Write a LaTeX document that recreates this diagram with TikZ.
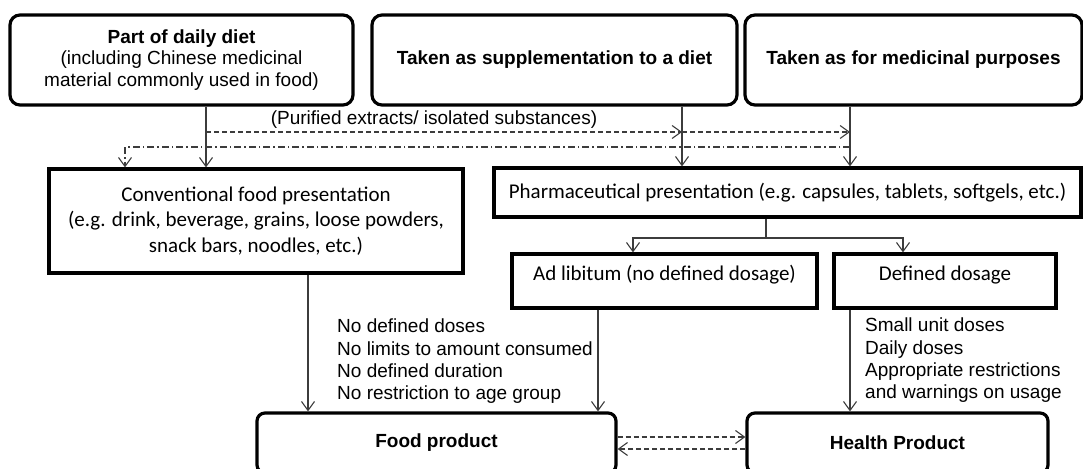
\documentclass[tikz,border=0pt]{standalone}
\usepackage{fontspec}
\setmainfont{Liberation Sans}
\newfontfamily\calfont{Carlito}
\usetikzlibrary{arrows.meta,positioning}
\definecolor{lineink}{HTML}{3c3c3c}

\begin{document}
\begin{tikzpicture}[x=1pt, y=-1pt,
  topbox/.style={draw, line width=3.2pt, rounded corners=10pt, inner sep=0pt,
                 align=center, font=\fontsize{19}{21.5}\selectfont},
  endbox/.style={topbox, rounded corners=8pt, font=\bfseries\fontsize{19}{22}\selectfont},
  presbox/.style={draw, line width=3.2pt, inner sep=0pt, align=center,
                  font=\calfont\fontsize{21}{25.5}\selectfont},
  note/.style={inner sep=0pt, align=left, font=\fontsize{19}{22.3}\selectfont},
  lab/.style={inner sep=1pt, font=\fontsize{19}{22}\selectfont},
  ar/.style={draw=lineink, line width=1.1pt, -{Straight Barb[length=9pt,width=13pt]}},
  dashar/.style={ar, dash pattern=on 5pt off 3pt},
  dotar/.style={ar, dash pattern=on 7pt off 3pt on 1.5pt off 3pt}]
\useasboundingbox (0,0) rectangle (1083,468);

\node[topbox, minimum width=343pt, minimum height=90pt] (diet) at (181.5,60)
  {{\bfseries Part of daily diet}\\(including Chinese medicinal\\material commonly used in food)};
\node[topbox, minimum width=365pt, minimum height=90pt, font=\bfseries\fontsize{19}{22}\selectfont]
  (supp) at (554.5,60) {Taken as supplementation to a diet};
\node[topbox, minimum width=337pt, minimum height=90pt, font=\bfseries\fontsize{19}{22}\selectfont]
  (med) at (913.5,60) {Taken as for medicinal purposes};

\node[presbox, minimum width=414pt, minimum height=104pt] (conv) at (256,221)
  {Conventional food presentation\\(e.g. drink, beverage, grains, loose powders,\\snack bars, noodles, etc.)};
\node[presbox, minimum width=587pt, minimum height=49pt] (pharm) at (787.5,192.5)
  {Pharmaceutical presentation (e.g. capsules, tablets, softgels, etc.)};
\node[presbox, minimum width=305pt, minimum height=54pt, text height=14pt, text depth=15pt]
  (adlib) at (664.5,281) {Ad libitum (no defined dosage)};
\node[presbox, minimum width=222pt, minimum height=54pt, text height=14pt, text depth=15pt]
  (defd) at (945,281) {Defined dosage};

\node[endbox, minimum width=359pt, minimum height=60pt] (food) at (436.5,443) {Food product};
\node[endbox, minimum width=301pt, minimum height=60pt] (health) at (897.5,443) {Health Product};

\node[note, anchor=north west] (nolimits) at (337,319)
  {No defined doses\\No limits to amount consumed\\No defined duration\\No restriction to age group};
\node[note, anchor=north west] (limits) at (865,318)
  {Small unit doses\\Daily doses\\Appropriate restrictions\\and warnings on usage};
\node[lab] (purif) at (434,120) {(Purified extracts/ isolated substances)};

\coordinate (colA) at (125,0);
\coordinate (colB) at (206,0);
\coordinate (colC) at (308,0);
\coordinate (colD) at (598,0);
\coordinate (colE) at (682,0);
\coordinate (colF) at (766,0);
\coordinate (colG) at (633,0);
\coordinate (colH) at (903,0);
\coordinate (colI) at (850,0);
\coordinate (rowdash) at (0,132);
\coordinate (rowdot) at (0,147);
\coordinate (rowfork) at (0,238);
\coordinate (rowto) at (0,437);
\coordinate (rowback) at (0,449);

\draw[ar] (diet.south -| colB) -- (conv.north -| colB);
\draw[ar] (supp.south -| colE) -- (pharm.north -| colE);
\draw[ar] (med.south -| colI) -- (pharm.north -| colI);
\draw[dashar] (colB |- rowdash) -- (colE |- rowdash);
\draw[dashar] (colE |- rowdash) -- (colI |- rowdash);
\draw[dotar] (colI |- rowdot) -- (colA |- rowdot) -- (conv.north -| colA);

\draw[draw=lineink, line width=1.1pt] (pharm.south -| colF) -- (colF |- rowfork);
\draw[ar] (colF |- rowfork) -| (adlib.north -| colG);
\draw[ar] (colF |- rowfork) -| (defd.north -| colH);

\draw[ar] (conv.south -| colC) -- (food.north -| colC);
\draw[ar] (adlib.south -| colD) -- (food.north -| colD);
\draw[ar] (defd.south -| colI) -- (health.north -| colI);
\draw[dashar] (food.east |- rowto) -- (health.west |- rowto);
\draw[dashar] (health.west |- rowback) -- (food.east |- rowback);
\end{tikzpicture}
\end{document}
